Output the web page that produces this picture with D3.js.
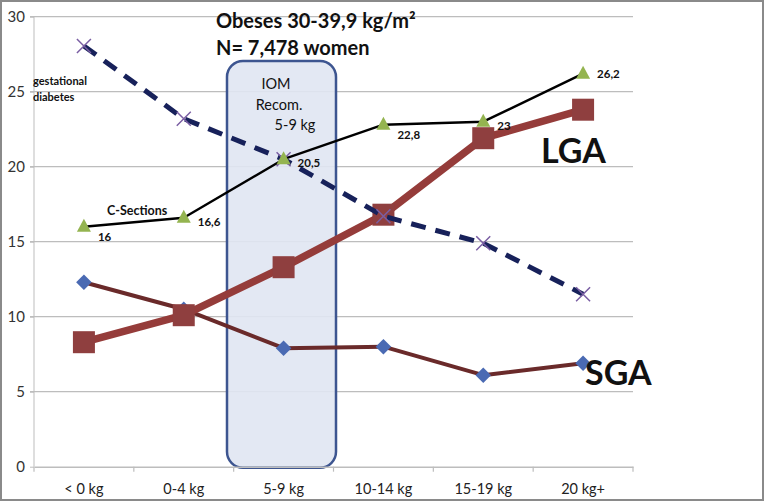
<!DOCTYPE html>
<html><head><meta charset="utf-8">
<script src="https://cdn.jsdelivr.net/npm/d3@7"></script>
<style>
html,body{margin:0;padding:0;background:#fff;}
svg{display:block;font-family:Lato,"Open Sans",sans-serif;}
</style></head>
<body><svg id="c" width="764" height="501"></svg>
<script>
const categories = ["< 0 kg","0-4 kg","5-9 kg","10-14 kg","15-19 kg","20 kg+"];
const gdm   = [28.05, 23.2, 20.5, 16.7, 14.9, 11.5];
const csect = [16, 16.6, 20.5, 22.8, 23, 26.2];
const csectLabels = ["16","16,6","20,5","22,8","23","26,2"];
const lga   = [8.3, 10.1, 13.3, 16.8, 21.9, 23.8];
const sga   = [12.3, 10.5, 7.9, 8.0, 6.1, 6.9];
const yTicks = [0,5,10,15,20,25,30];

const svg = d3.select("#c");
const x = d3.scaleBand().domain(categories).range([34, 633]).padding(0);
const y = d3.scaleLinear().domain([0, 30]).range([466.7, 16.7]);
const cx = c => x(c) + x.bandwidth()/2;

// border
svg.append("rect").attr("x",1).attr("y",1).attr("width",762).attr("height",499)
  .attr("fill","#fff").attr("stroke","#8a8a8a").attr("stroke-width",2);

// gridlines
svg.append("g").selectAll("line").data(yTicks.filter(d=>d>0)).join("line")
  .attr("x1",30).attr("x2",633).attr("y1",d=>y(d)).attr("y2",d=>y(d))
  .attr("stroke","#bdbdbd").attr("stroke-width",1.2);

// IOM box
svg.append("rect").attr("x",227).attr("y",61).attr("width",109).attr("height",y(0)-61+1)
  .attr("rx",16).attr("ry",16)
  .attr("fill","#e0e5f2").attr("fill-opacity",0.9)
  .attr("stroke","#3d5590").attr("stroke-width",2.5);

// y axis
const yAxis = d3.axisLeft(y).tickValues(yTicks).tickSize(4).tickPadding(5);
const gy = svg.append("g").attr("transform","translate(34,0)").call(yAxis);
gy.select(".domain").attr("stroke","#bdbdbd").attr("d","M0,"+y(30)+"V"+y(0));
gy.selectAll(".tick line").attr("stroke","#bdbdbd");
gy.selectAll("text").attr("font-size",15).attr("fill","#333").attr("font-family","Lato,sans-serif").attr("x",-9);

// x axis
const xAxis = d3.axisBottom(x).tickSize(0).tickPadding(17);
const gx = svg.append("g").attr("transform","translate(0,"+y(0)+")").call(xAxis);
gx.select(".domain").attr("stroke","#bdbdbd").attr("stroke-width",1.5);
gx.selectAll("text").attr("font-size",14.5).attr("fill","#222").attr("font-family","Lato,sans-serif");
const bounds = categories.map(c=>x(c)).concat([x(categories[categories.length-1])+x.bandwidth()]);
gx.append("g").selectAll("line").data(bounds).join("line")
  .attr("x1",d=>d).attr("x2",d=>d).attr("y1",0).attr("y2",5).attr("stroke","#bdbdbd").attr("stroke-width",1.2);

const line = d3.line().x((d,i)=>cx(categories[i])).y(d=>y(d));

// SGA
svg.append("path").datum(sga).attr("d",line).attr("fill","none")
  .attr("stroke","#6a2a2a").attr("stroke-width",4).attr("stroke-linejoin","round");
svg.append("g").selectAll("path").data(sga).join("path")
  .attr("transform",(d,i)=>"translate("+cx(categories[i])+","+y(d)+") rotate(45)")
  .attr("d","M-5.5,-5.5H5.5V5.5H-5.5Z").attr("fill","#4a6ab3");

// LGA
svg.append("path").datum(lga).attr("d",line).attr("fill","none")
  .attr("stroke","#953c3a").attr("stroke-width",7.5).attr("stroke-linejoin","round");
svg.append("g").selectAll("rect").data(lga).join("rect")
  .attr("x",(d,i)=>cx(categories[i])-11).attr("y",d=>y(d)-11)
  .attr("width",22).attr("height",22).attr("fill","#8f3f3f");

// GDM dashed
svg.append("path").datum(gdm).attr("d",line).attr("fill","none")
  .attr("stroke","#17215a").attr("stroke-width",5).attr("stroke-dasharray","15,10");
svg.append("g").selectAll("path").data(gdm).join("path")
  .attr("transform",(d,i)=>"translate("+cx(categories[i])+","+y(d)+")")
  .attr("d","M-7,-7L7,7M-7,7L7,-7").attr("stroke","#7a5ea3").attr("stroke-width",1.5).attr("fill","none");

// C-sections
svg.append("path").datum(csect).attr("d",line).attr("fill","none")
  .attr("stroke","#000").attr("stroke-width",2.4).attr("stroke-linejoin","round");
svg.append("g").selectAll("path").data(csect).join("path")
  .attr("transform",(d,i)=>"translate("+cx(categories[i])+","+y(d)+")")
  .attr("d","M0,-8L7,5H-7Z").attr("fill","#94b450");
svg.append("g").selectAll("text").data(csect).join("text")
  .attr("x",(d,i)=>cx(categories[i])+14).attr("y",(d,i)=>y(d)+ [14,8,8,14,8,4][i])
  .attr("font-size",11.5).attr("font-weight","bold").attr("fill","#111")
  .text((d,i)=>csectLabels[i]);

// texts
const t = (xx,yy,s,size,w,anchor)=>svg.append("text").attr("x",xx).attr("y",yy).attr("font-size",size)
  .attr("font-weight",w||"normal").attr("fill","#111").attr("text-anchor",anchor||"start").text(s);
t(216,28,"Obeses 30-39,9 kg/m²",20,"bold");
t(216,55,"N= 7,478 women",20,"bold");
t(33,85,"gestational",11,"bold");
t(33,101,"diabetes",11,"bold");
t(107,215,"C-Sections",12.5,"bold");
t(276,89,"IOM",14.5,"normal","middle");
t(279,110,"Recom.",14.5,"normal","middle");
t(295,130,"5-9 kg",14.5,"normal","middle");
t(541,163,"LGA",34,"bold");
t(585,385,"SGA",34,"bold");
</script></body></html>
